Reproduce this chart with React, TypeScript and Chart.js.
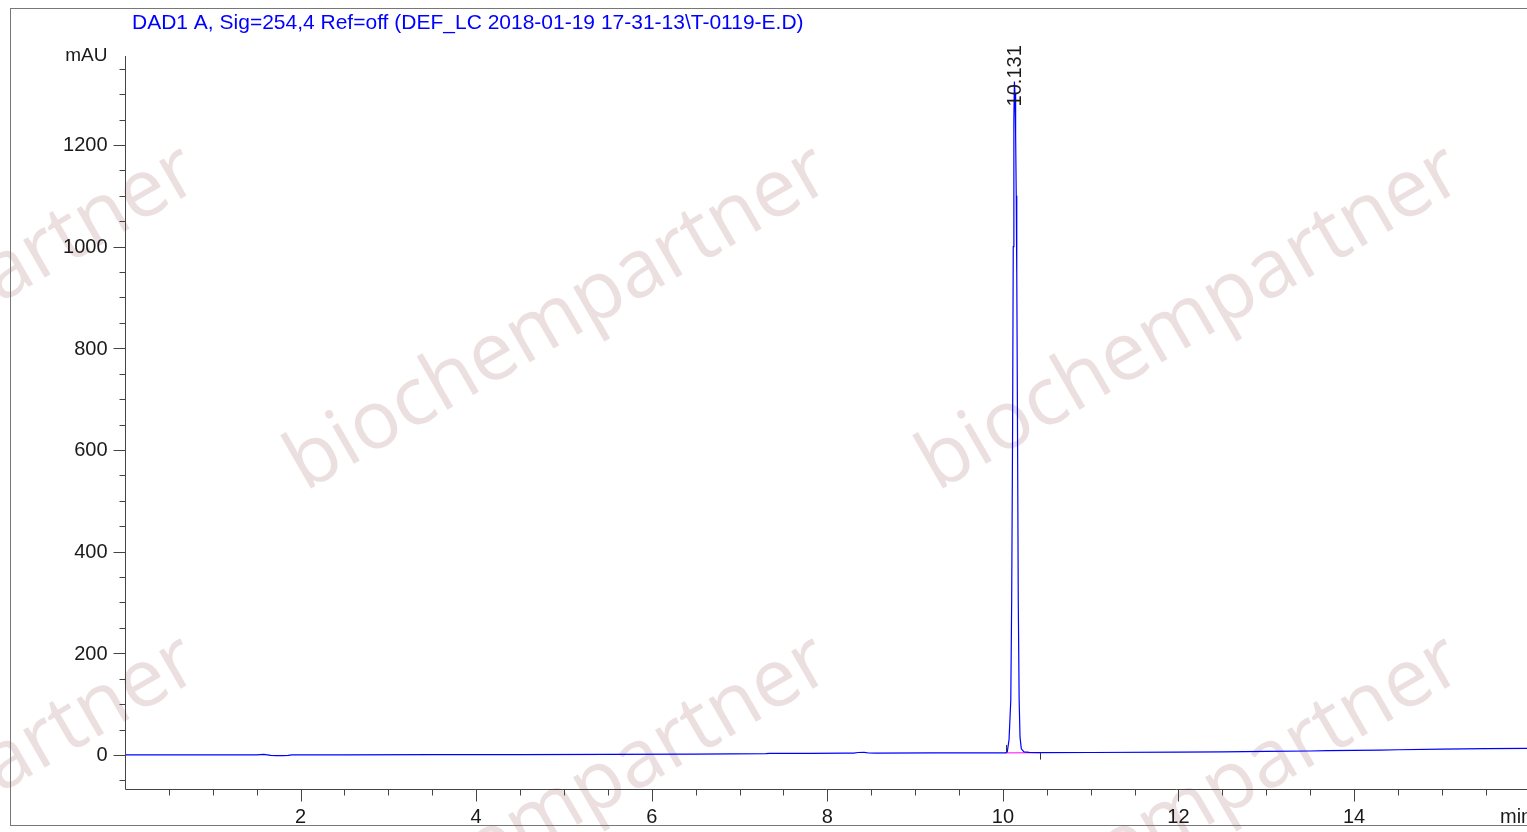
import React, { useEffect, useRef } from "react";
import { Chart, registerables } from "chart.js";

Chart.register(...registerables);

const TITLE = "DAD1 A, Sig=254,4 Ref=off (DEF_LC 2018-01-19 17-31-13\\T-0119-E.D)";
const Y_UNIT = "mAU";
const X_UNIT = "min";
const WATERMARK = "biochempartner";

const X_MIN = 0;
const X_MAX = 15.97;
const Y_MIN = -67;
const Y_MAX = 1375;

const X_MAJOR_TICKS = [2, 4, 6, 8, 10, 12, 14];
const X_MINOR_TICKS = [0.5, 1, 1.5, 2.5, 3, 3.5, 4.5, 5, 5.5, 6.5, 7, 7.5, 8.5, 9, 9.5, 10.5, 11, 11.5, 12.5, 13, 13.5, 14.5, 15, 15.5];
const Y_MAJOR_TICKS = [0, 200, 400, 600, 800, 1000, 1200];
const Y_MINOR_TICKS = [-50, 50, 100, 150, 250, 300, 350, 450, 500, 550, 650, 700, 750, 850, 900, 950, 1050, 1100, 1150, 1250, 1300, 1350];

const timeMin = [
  0.0, 0.8, 1.5, 1.58, 1.62, 1.66, 1.72, 1.8, 1.86, 1.9, 2.5, 3.5, 4.5, 5.5, 6.5, 7.3, 7.34, 7.8, 8.2, 8.3,
  8.35, 8.42, 8.47, 8.55, 9.2, 9.8, 10.03, 10.05, 10.07, 10.09, 10.1, 10.11, 10.118, 10.125, 10.131,
  10.138, 10.145, 10.152, 10.158, 10.165, 10.175, 10.185, 10.195, 10.21, 10.24, 10.3, 10.42, 11.0, 12.0, 12.5,
  13.0, 13.5, 13.7, 14.0, 14.3, 14.5, 15.0, 15.5, 15.97,
];
const signalMAU = [
  0.0, 0.1, 0.3, 1.0, 0.2, -0.9, -1.3, -1.4, -0.8, 0.1, 0.3, 0.5, 0.8, 1.1, 1.6, 2.4, 3.0, 3.2, 3.4, 3.6,
  4.8, 5.2, 3.8, 3.6, 3.9, 4.0, 4.0, 6, 30, 108, 305, 620, 1000, 1250, 1325,
  1300, 1220, 1100, 950, 700, 305, 110, 35, 12, 6, 5, 4.6, 4.8, 5.4, 6.0,
  7.0, 7.8, 8.4, 8.8, 9.6, 10.2, 11.4, 12.6, 13.0,
];

const peakTimes = [10.131];
const peakHeights = [1325];
const peakLabels = ["10.131"];

const baselineTimes = [10.03, 10.42];
const baselineValues = [4.0, 4.6];

const FONT = "'Liberation Sans', Arial, sans-serif";

const chromPlugin = {
  id: "chromPlugin",
  beforeDraw(chart: any) {
    const ctx = chart.ctx as CanvasRenderingContext2D;
    const w = chart.width;
    ctx.save();
    ctx.fillStyle = "#ffffff";
    ctx.fillRect(0, 0, w, chart.height);
    // watermark
    ctx.fillStyle = "rgb(236,223,223)";
    ctx.font = "81px 'Open Sans', sans-serif";
    ctx.textAlign = "left";
    ctx.textBaseline = "alphabetic";
    const xs = [-327, 305, 937];
    const ys = [492, 982];
    for (const yy of ys) {
      for (const xx of xs) {
        ctx.save();
        ctx.translate(xx, yy);
        ctx.rotate((-30 * Math.PI) / 180);
        ctx.fillText(WATERMARK, 0, 0);
        ctx.restore();
      }
    }
    // frame
    ctx.strokeStyle = "#777777";
    ctx.lineWidth = 1;
    ctx.strokeRect(10.5, 8.5, w + 20, 817);
    ctx.restore();
  },
  afterDatasetsDraw(chart: any) {
    const ctx = chart.ctx as CanvasRenderingContext2D;
    const xs = chart.scales.x;
    const ys = chart.scales.y;
    const area = chart.chartArea;
    ctx.save();
    ctx.strokeStyle = "#444444";
    ctx.lineWidth = 1;
    const ax = Math.round(area.left) + 0.5;
    const ay = Math.round(area.bottom) + 0.5;
    ctx.beginPath();
    ctx.moveTo(ax, area.top);
    ctx.lineTo(ax, ay);
    ctx.lineTo(chart.width, ay);
    ctx.stroke();

    ctx.beginPath();
    for (const v of Y_MAJOR_TICKS) {
      const py = Math.round(ys.getPixelForValue(v)) + 0.5;
      ctx.moveTo(ax - 12, py);
      ctx.lineTo(ax, py);
    }
    for (const v of Y_MINOR_TICKS) {
      const py = Math.round(ys.getPixelForValue(v)) + 0.5;
      ctx.moveTo(ax - 6, py);
      ctx.lineTo(ax, py);
    }
    for (const v of X_MAJOR_TICKS) {
      const px = Math.round(xs.getPixelForValue(v)) + 0.5;
      ctx.moveTo(px, ay);
      ctx.lineTo(px, ay + 12);
    }
    for (const v of X_MINOR_TICKS) {
      const px = Math.round(xs.getPixelForValue(v)) + 0.5;
      ctx.moveTo(px, ay);
      ctx.lineTo(px, ay + 6);
    }
    ctx.stroke();

    ctx.fillStyle = "#1a1a1a";
    ctx.font = `20px ${FONT}`;
    ctx.textAlign = "right";
    ctx.textBaseline = "middle";
    for (const v of Y_MAJOR_TICKS) {
      ctx.fillText(String(v), ax - 18, ys.getPixelForValue(v) + 1);
    }
    ctx.font = `19px ${FONT}`;
    ctx.fillText(Y_UNIT, ax - 18, area.top);

    ctx.font = `20px ${FONT}`;
    ctx.textAlign = "center";
    ctx.textBaseline = "alphabetic";
    for (const v of X_MAJOR_TICKS) {
      ctx.fillText(String(v), xs.getPixelForValue(v), ay + 33);
    }
    ctx.textAlign = "left";
    ctx.fillText(X_UNIT, 1500, ay + 33);

    // integration event ticks
    ctx.strokeStyle = "#333333";
    ctx.beginPath();
    {
      const px = Math.round(xs.getPixelForValue(baselineTimes[0])) + 0.5;
      const py = ys.getPixelForValue(baselineValues[0]);
      ctx.moveTo(px, py - 8);
      ctx.lineTo(px, py);
      const px2 = Math.round(xs.getPixelForValue(baselineTimes[1])) + 0.5;
      const py2 = ys.getPixelForValue(baselineValues[1]);
      ctx.moveTo(px2, py2);
      ctx.lineTo(px2, py2 + 7);
    }
    ctx.stroke();

    // peak labels
    ctx.fillStyle = "#1a1a1a";
    ctx.font = `20px ${FONT}`;
    ctx.textAlign = "left";
    ctx.textBaseline = "middle";
    peakTimes.forEach((t, i) => {
      const px = xs.getPixelForValue(t);
      const py = ys.getPixelForValue(peakHeights[i]) + 25;
      ctx.save();
      ctx.translate(px + 1, py);
      ctx.rotate(-Math.PI / 2);
      ctx.fillText(peakLabels[i], 0, 0);
      ctx.restore();
    });

    // title
    ctx.fillStyle = "#0000ff";
    ctx.font = `21px ${FONT}`;
    ctx.textAlign = "left";
    ctx.textBaseline = "alphabetic";
    ctx.fillText(TITLE, 132, 29);
    ctx.restore();
  },
};

export default function App() {
  const ref = useRef<HTMLCanvasElement | null>(null);
  useEffect(() => {
    if (!ref.current) return;
    const chart = new Chart(ref.current, {
      type: "line",
      data: {
        datasets: [
          {
            label: "signal",
            data: timeMin.map((t, i) => ({ x: t, y: signalMAU[i] })),
            borderColor: "#0000ff",
            borderWidth: 1.2,
            pointRadius: 0,
            tension: 0,
            fill: false,
          },
          {
            label: "baseline",
            data: baselineTimes.map((t, i) => ({ x: t, y: baselineValues[i] })),
            borderColor: "#ff33ff",
            borderWidth: 1.2,
            pointRadius: 0,
            tension: 0,
            fill: false,
          },
        ],
      },
      options: {
        animation: false,
        responsive: false,
        maintainAspectRatio: false,
        parsing: false as any,
        layout: { padding: { left: 125, top: 56, right: 0, bottom: 43 } },
        plugins: {
          legend: { display: false },
          tooltip: { enabled: false },
          title: { display: false },
        },
        scales: {
          x: { type: "linear", min: X_MIN, max: X_MAX, display: false },
          y: { type: "linear", min: Y_MIN, max: Y_MAX, display: false },
        },
      },
      plugins: [chromPlugin],
    });
    return () => chart.destroy();
  }, []);
  return (
    <div style={{ position: "fixed", left: 0, top: 0, width: 1527, height: 832, background: "#fff" }}>
      <canvas ref={ref} width={1527} height={832} style={{ display: "block" }} />
    </div>
  );
}
